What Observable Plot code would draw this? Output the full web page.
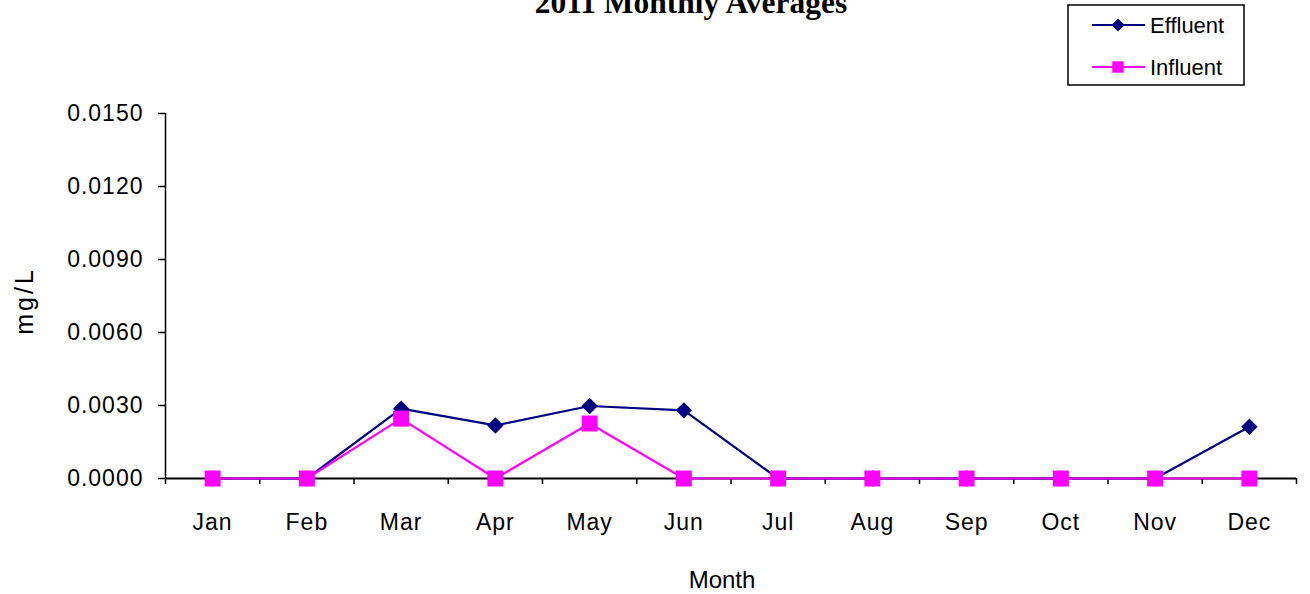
<!DOCTYPE html>
<html>
<head>
<meta charset="utf-8">
<script src="https://cdn.jsdelivr.net/npm/d3@7"></script>
<script src="https://cdn.jsdelivr.net/npm/@observablehq/plot@0.6"></script>
<style>
  body { margin: 0; background: #fff; }
  #chart { width: 1310px; height: 594px; overflow: hidden; }
  #chart svg g[aria-label="y-axis tick label"] text,
  #chart svg g[aria-label="x-axis tick label"] text { letter-spacing: 1px; }
</style>
</head>
<body>
<div id="chart"></div>
<script>
const months = ["Jan","Feb","Mar","Apr","May","Jun","Jul","Aug","Sep","Oct","Nov","Dec"];
const effluent = [0, 0, 0.00287, 0.00218, 0.00298, 0.00280, 0, 0, 0, 0, 0, 0.00213];
const influent = [0, 0, 0.00246, 0, 0.00226, 0, 0, 0, 0, 0, 0, 0];
const yTicks = [0, 0.003, 0.006, 0.009, 0.012, 0.015];
const monthIndex = [1,2,3,4,5,6,7,8,9,10,11,12];
const boundaries = [0.5,1.5,2.5,3.5,4.5,5.5,6.5,7.5,8.5,9.5,10.5,11.5,12.5];
const seriesNames = ["Effluent", "Influent"];
const seriesColors = ["#000080", "#FF00FF"];

const rows = months.map((m, i) => ({i: monthIndex[i], month: m, effluent: effluent[i], influent: influent[i]}));

const chart = Plot.plot({
  width: 1310,
  height: 594,
  marginLeft: 165,
  marginRight: 14,
  marginTop: 113,
  marginBottom: 116,
  style: {fontFamily: "'Liberation Sans', Arial, sans-serif", color: "#000", background: "#fff", overflow: "visible"},
  x: {domain: [0.5, 12.5]},
  y: {domain: [0, 0.015]},
  marks: [
    Plot.axisY({ticks: yTicks, tickFormat: d3.format(".4f"), tickSize: 7, tickPadding: 15, fontSize: 23, label: null, strokeWidth: 1.5}),
    Plot.axisX({ticks: boundaries, tickFormat: () => "", tickSize: 6, label: null, strokeWidth: 1.5}),
    Plot.axisX({ticks: monthIndex, tickFormat: i => months[i - 1], tickSize: 0, tickPadding: 35, fontSize: 23, label: null}),
    Plot.ruleX([0.5], {stroke: "#000", strokeWidth: 1.5}),
    Plot.ruleY([0], {stroke: "#000", strokeWidth: 2}),
    Plot.line(rows, {x: "i", y: "effluent", stroke: seriesColors[0], strokeWidth: 2.2}),
    Plot.dot(rows, {x: "i", y: "effluent", symbol: d3.symbolDiamond2, r: 7.4, fill: seriesColors[0], stroke: "none"}),
    Plot.line(rows, {x: "i", y: "influent", stroke: seriesColors[1], strokeWidth: 2.2}),
    Plot.dot(rows, {x: "i", y: "influent", symbol: "square", r: 9, fill: seriesColors[1], stroke: "none"})
  ]
});

const svg = d3.select(chart);

svg.append("text")
  .attr("x", 691).attr("y", 13)
  .attr("text-anchor", "middle")
  .attr("font-family", "'Liberation Serif', 'Times New Roman', serif")
  .attr("font-weight", "bold")
  .attr("font-size", 31.5)
  .attr("fill", "#000")
  .text("2011 Monthly Averages");

svg.append("text")
  .attr("transform", "translate(24,301) rotate(-90)")
  .attr("text-anchor", "middle")
  .attr("dominant-baseline", "central")
  .attr("font-size", 25)
  .attr("letter-spacing", 3)
  .attr("fill", "#000")
  .text("mg/L");

svg.append("text")
  .attr("x", 722).attr("y", 588)
  .attr("text-anchor", "middle")
  .attr("font-size", 24)
  .attr("fill", "#000")
  .text("Month");

// Legend
const lg = svg.append("g");
lg.append("rect").attr("x", 1068).attr("y", 5).attr("width", 176).attr("height", 80)
  .attr("fill", "#fff").attr("stroke", "#000").attr("stroke-width", 1.5);
const legendY = [25, 67];
seriesNames.forEach((name, k) => {
  const y = legendY[k];
  lg.append("line").attr("x1", 1092).attr("x2", 1145).attr("y1", y).attr("y2", y)
    .attr("stroke", seriesColors[k]).attr("stroke-width", 2);
  const sym = k === 0 ? d3.symbol(d3.symbolDiamond2, 110) : d3.symbol(d3.symbolSquare, 130);
  lg.append("path").attr("d", sym()).attr("transform", `translate(1118,${y})`).attr("fill", seriesColors[k]);
  lg.append("text").attr("x", 1150).attr("y", y).attr("dy", "0.35em")
    .attr("text-anchor", "start")
    .attr("font-size", 22).attr("fill", "#000").text(name);
});

document.getElementById("chart").appendChild(chart);
</script>
</body>
</html>
